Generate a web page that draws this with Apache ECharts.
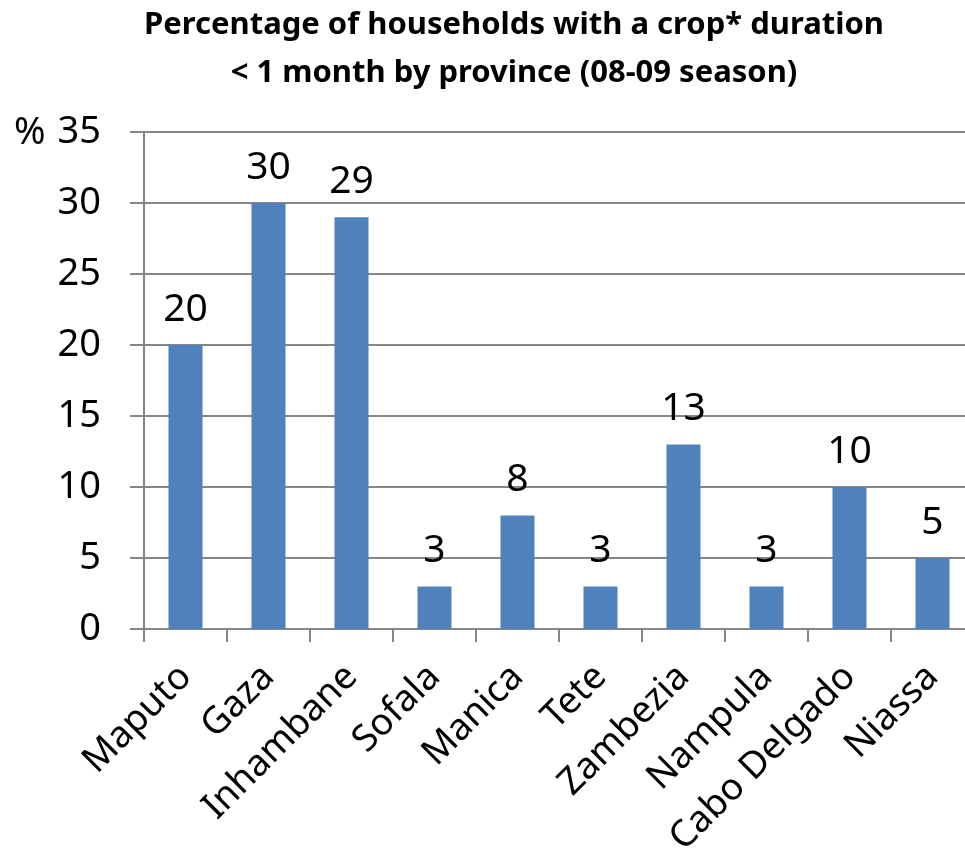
<!DOCTYPE html>
<html>
<head>
<meta charset="utf-8">
<script src="https://cdn.jsdelivr.net/npm/echarts@6/dist/echarts.min.js"></script>
<style>
  html, body { margin: 0; padding: 0; background: #fff; }
  #chart { width: 965px; height: 849px; }
</style>
</head>
<body>
<div id="chart"></div>
<script>
// Provinces and share of households (%) with a crop duration under one month
const provinces = ['Maputo', 'Gaza', 'Inhambane', 'Sofala', 'Manica', 'Tete', 'Zambezia', 'Nampula', 'Cabo Delgado', 'Niassa'];
const percentages = [20, 30, 29, 3, 8, 3, 13, 3, 10, 5];
const yTicks = { min: 0, max: 35, interval: 5 };

const FONT = '"Noto Sans", "Open Sans", sans-serif';
const chart = echarts.init(document.getElementById('chart'));

chart.setOption({
  animation: false,
  backgroundColor: '#ffffff',
  graphic: [{
    // Two-line chart title, centred over the plot area
    type: 'text',
    x: 514,
    y: 1,
    style: {
      text: 'Percentage of households with a crop* duration\n< 1 month by province (08-09 season)',
      fontFamily: FONT,
      fontWeight: 'bold',
      fontSize: 31,
      lineHeight: 48,
      fill: '#000',
      align: 'center',
      verticalAlign: 'top'
    }
  }, {
    type: 'text',
    left: 14,
    top: 114,
    style: { text: '%', font: '38px ' + FONT, fill: '#000' }
  }],
  grid: {
    left: 144, right: -9, top: 132, bottom: 220,
    containLabel: false,
    outerBoundsMode: 'none'
  },
  xAxis: {
    type: 'category',
    data: provinces,
    axisLine: { lineStyle: { color: '#868686', width: 2 } },
    axisTick: { show: true, length: 13, lineStyle: { color: '#868686', width: 2 } },
    axisLabel: {
      rotate: 45,
      margin: 42,
      interval: 0,
      fontFamily: FONT,
      fontSize: 37,
      color: '#000'
    }
  },
  yAxis: {
    type: 'value',
    min: yTicks.min,
    max: yTicks.max,
    interval: yTicks.interval,
    axisLine: { show: true, lineStyle: { color: '#868686', width: 2 } },
    axisTick: { show: true, length: 14, lineStyle: { color: '#868686', width: 2 } },
    splitLine: { show: true, lineStyle: { color: '#868686', width: 2 } },
    axisLabel: {
      margin: 43,
      fontFamily: FONT,
      fontSize: 38,
      color: '#000'
    }
  },
  series: [{
    type: 'bar',
    data: percentages,
    barWidth: '41%',
    itemStyle: { color: '#4F81BD' },
    label: {
      show: true,
      position: 'top',
      distance: 16,
      fontFamily: FONT,
      fontSize: 39,
      color: '#000'
    }
  }]
});
</script>
</body>
</html>
